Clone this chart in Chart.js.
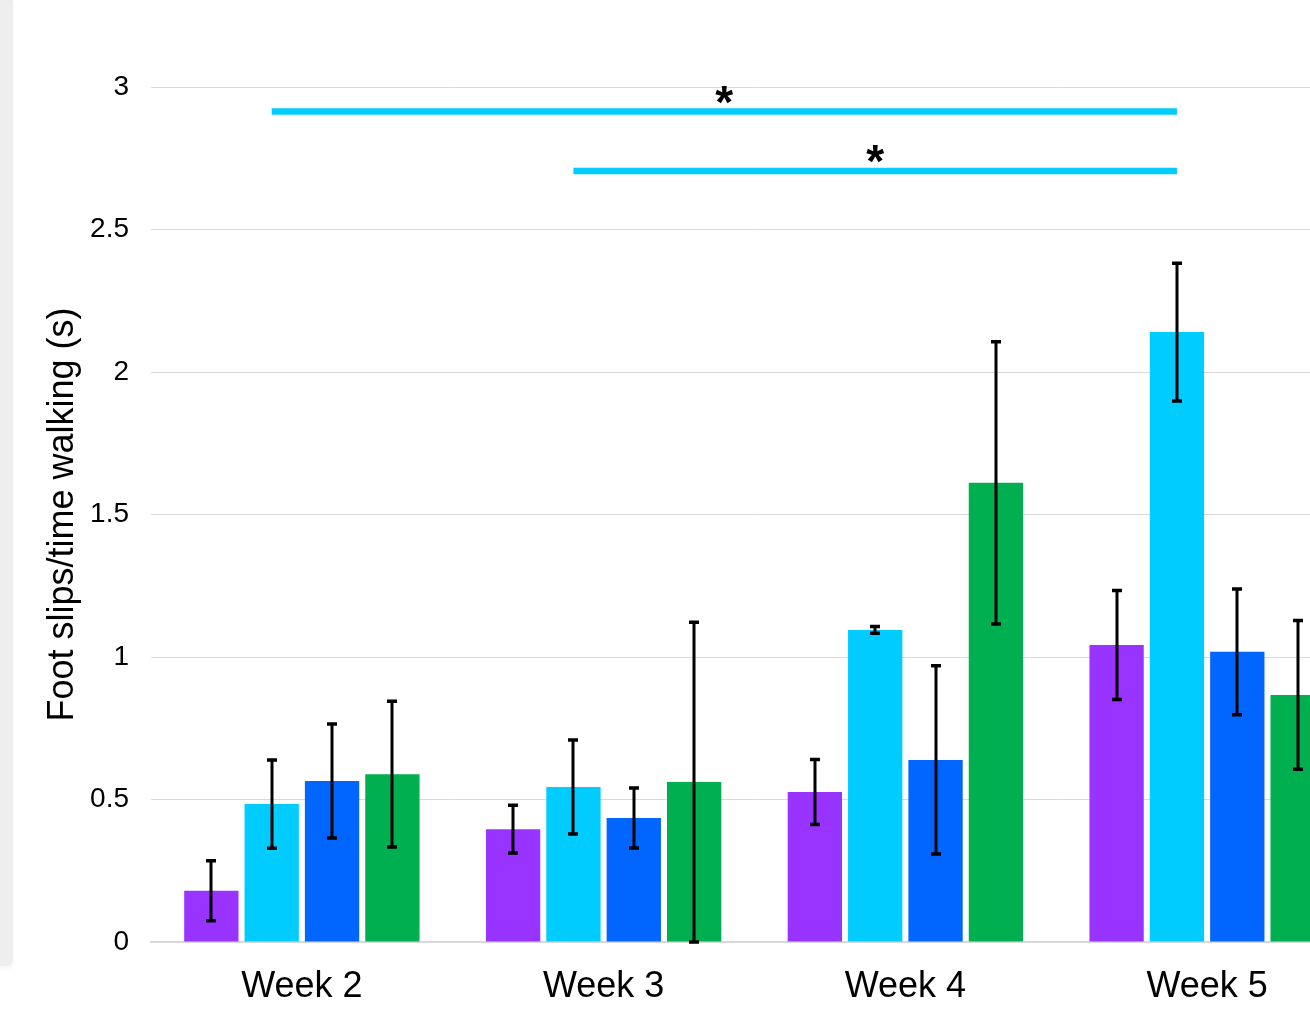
<!DOCTYPE html>
<html>
<head>
<meta charset="utf-8">
<title>Foot slips per time walking</title>
<script src="https://cdn.jsdelivr.net/npm/chart.js@4.4.0/dist/chart.umd.min.js"></script>
<style>
  html, body { margin: 0; padding: 0; background: #ffffff; overflow: hidden; }
  #wrap { position: relative; width: 1310px; height: 1025px; overflow: hidden; }
  #strip { position: absolute; left: 0; top: 0; width: 13px; height: 966px; background: #eeeeee;
           border-bottom-right-radius: 6px; box-shadow: 0 3px 4px rgba(0,0,0,0.04); }
  #chart { position: absolute; left: 0; top: 0; }
</style>
</head>
<body>
<div id="wrap">
  <div id="strip"></div>
  <canvas id="chart" width="1358" height="1025"></canvas>
</div>
<script>
// Categories and group means / standard errors
const weeks = ['Week 2', 'Week 3', 'Week 4', 'Week 5'];
const seriesNames = ['Group A', 'Group B', 'Group C', 'Group D'];
const seriesColors = ['#9933FF', '#00CCFF', '#0066FF', '#00B050'];

const groupA = [0.18, 0.396, 0.526, 1.042];
const groupB = [0.484, 0.544, 1.095, 2.140];
const groupC = [0.565, 0.435, 0.639, 1.018];
const groupD = [0.589, 0.561, 1.611, 0.867];

const errA = [0.105, 0.084, 0.114, 0.191];
const errB = [0.155, 0.165, 0.012, 0.242];
const errC = [0.200, 0.105, 0.330, 0.221];
const errD = [0.256, 0.561, 0.495, 0.261];

// Significance brackets (drawn over the Group B bars)
const sigFrom = ['Week 2', 'Week 3'];
const sigTo = ['Week 5', 'Week 5'];
const sigLevel = [2.914, 2.705];
const sigLabel = ['*', '*'];
const sigSeries = 1;

const yTicks = [0, 0.5, 1, 1.5, 2, 2.5, 3];

const FONT = '"Liberation Sans", Arial, sans-serif';

const values = [groupA, groupB, groupC, groupD];
const errors = [errA, errB, errC, errD];

const errorBarPlugin = {
  id: 'errorBars',
  afterDatasetsDraw(chart) {
    const ctx = chart.ctx;
    const y = chart.scales.y;
    ctx.save();
    ctx.strokeStyle = '#000000';
    ctx.lineCap = 'butt';
    chart.data.datasets.forEach((ds, di) => {
      const meta = chart.getDatasetMeta(di);
      meta.data.forEach((bar, i) => {
        const v = ds.data[i];
        const e = ds.errors[i];
        const top = y.getPixelForValue(v + e);
        const bot = y.getPixelForValue(Math.max(0, v - e));
        const x = Math.round(bar.x);
        ctx.lineWidth = 3;
        ctx.beginPath();
        ctx.moveTo(x, top);
        ctx.lineTo(x, bot);
        ctx.stroke();
        ctx.lineWidth = 3.5;
        ctx.beginPath();
        ctx.moveTo(x - 5, top);
        ctx.lineTo(x + 5, top);
        ctx.moveTo(x - 5, bot);
        ctx.lineTo(x + 5, bot);
        ctx.stroke();
      });
    });
    ctx.restore();
  }
};

const significancePlugin = {
  id: 'significance',
  afterDatasetsDraw(chart) {
    const ctx = chart.ctx;
    const y = chart.scales.y;
    const meta = chart.getDatasetMeta(sigSeries);
    ctx.save();
    sigLevel.forEach((lvl, k) => {
      const x1 = meta.data[weeks.indexOf(sigFrom[k])].x;
      const x2 = meta.data[weeks.indexOf(sigTo[k])].x;
      const py = y.getPixelForValue(lvl);
      ctx.strokeStyle = seriesColors[sigSeries];
      ctx.lineWidth = 6.5;
      ctx.beginPath();
      ctx.moveTo(x1, py);
      ctx.lineTo(x2, py);
      ctx.stroke();
      ctx.fillStyle = '#000000';
      ctx.font = 'bold 46px ' + FONT;
      ctx.textAlign = 'center';
      ctx.textBaseline = 'alphabetic';
      ctx.fillText(sigLabel[k], (x1 + x2) / 2, py + 6);
    });
    ctx.restore();
  }
};

new Chart(document.getElementById('chart'), {
  type: 'bar',
  data: {
    labels: weeks,
    datasets: seriesNames.map((name, i) => ({
      label: name,
      data: values[i],
      errors: errors[i],
      backgroundColor: seriesColors[i],
      borderWidth: 0,
      categoryPercentage: 0.8,
      barPercentage: 0.9
    }))
  },
  options: {
    responsive: false,
    animation: false,
    devicePixelRatio: 1,
    layout: { padding: { top: 87, left: 1, right: 0, bottom: 0 } },
    plugins: {
      legend: { display: false },
      tooltip: { enabled: false }
    },
    scales: {
      x: {
        grid: { display: false, drawTicks: false },
        border: { display: true, color: '#d9d9d9', width: 2 },
        ticks: { color: '#000000', font: { family: FONT, size: 36 }, padding: 23 },
        afterFit(scale) { scale.height = 83; }
      },
      y: {
        min: 0,
        max: 3,
        afterBuildTicks(scale) { scale.ticks = yTicks.map(v => ({ value: v })); },
        grid: { color: '#d9d9d9', lineWidth: 1, drawTicks: false },
        border: { display: false },
        ticks: {
          color: '#000000',
          font: { family: FONT, size: 28 },
          padding: 22,
          callback: (v) => String(v)
        },
        title: {
          display: true,
          text: 'Foot slips/time walking (s)',
          color: '#000000',
          font: { family: FONT, size: 36 },
          padding: { top: 40, bottom: 0 }
        },
        afterFit(scale) { scale.width = 150; }
      }
    }
  },
  plugins: [errorBarPlugin, significancePlugin]
});
</script>
</body>
</html>
